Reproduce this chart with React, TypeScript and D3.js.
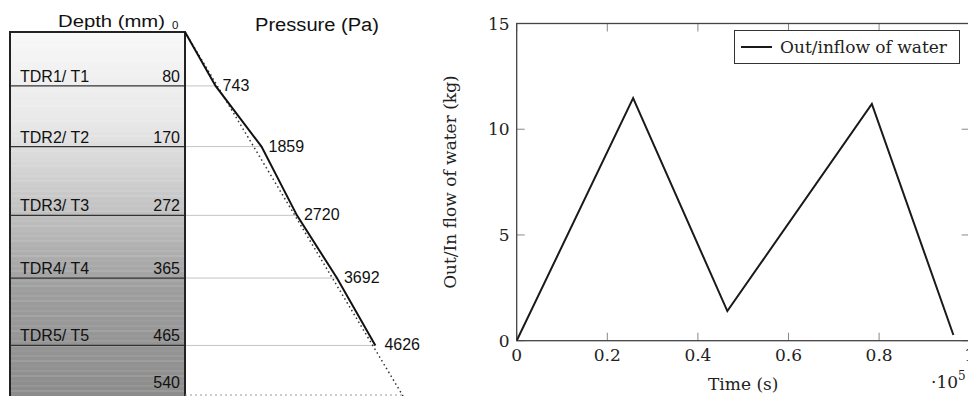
import React from "react";
import * as d3 from "d3";

// ---------- Left panel data ----------
const layerDepths = [80, 170, 272, 365, 465];          // mm
const sensorLabels = ["TDR1/ T1", "TDR2/ T2", "TDR3/ T3", "TDR4/ T4", "TDR5/ T5"];
const measuredPressure = [743, 1859, 2720, 3692, 4626]; // Pa
const bottomDepth = 540;
const hydrostaticBottom = 5297; // Pa at 540 mm

// ---------- Right panel data ----------
const timeValues = [0, 0.257e5, 0.465e5, 0.784e5, 0.964e5];
const waterValues = [0, 11.47, 1.4, 11.2, 0.27];
const xTicks = [0, 0.2e5, 0.4e5, 0.6e5, 0.8e5, 1e5];
const xTickLabels = ["0", "0.2", "0.4", "0.6", "0.8", "1"];
const yTicks = [0, 5, 10, 15];

const W = 968;
const H = 396;

export default function App() {
  // left panel scales
  const colL = 10;
  const colR = 185;
  const depthY = d3.scaleLinear().domain([0, bottomDepth]).range([32, 396]);
  const presX = d3.scaleLinear().domain([0, hydrostaticBottom]).range([colR, 403]);

  const curvePts: [number, number][] = [[0, 0], ...layerDepths.map((d, i) => [d, measuredPressure[i]] as [number, number])];
  const curve = d3
    .line<[number, number]>()
    .x((p) => presX(p[1]))
    .y((p) => depthY(p[0]))(curvePts);
  const hydro = d3
    .line<[number, number]>()
    .x((p) => presX(p[1]))
    .y((p) => depthY(p[0]))([
      [0, 0],
      [bottomDepth, hydrostaticBottom],
    ]);

  // right panel scales
  const x = d3.scaleLinear().domain([0, 1e5]).range([516.7, 969.7]);
  const y = d3.scaleLinear().domain([0, 15]).range([340.7, 23.5]);
  const line = d3
    .line<number>()
    .x((_, i) => x(timeValues[i]))
    .y((v) => y(v))(waterValues);

  const serif = "'DejaVu Serif', serif";
  const sans = "'Liberation Sans', Arial, sans-serif";
  const tickLen = 8;
  const [x0, x1] = x.range();
  const [y0, y1] = y.range();

  const stripes = d3.range(36, 396, 5);

  return (
    <svg
      width={W}
      height={H}
      style={{ position: "absolute", left: 0, top: 0, background: "#fff" }}
    >
      <defs>
        <linearGradient id="soil" x1="0" y1="0" x2="0" y2="1">
          <stop offset="0" stopColor="#f8f8f8" />
          <stop offset="0.25" stopColor="#e8e8e8" />
          <stop offset="0.5" stopColor="#c0c0c0" />
          <stop offset="0.7" stopColor="#9e9e9e" />
          <stop offset="1" stopColor="#8c8c8c" />
        </linearGradient>
        <clipPath id="plotclip">
          <rect x={x0} y={y1} width={x1 - x0} height={y0 - y1} />
        </clipPath>
      </defs>

      {/* ---------------- Left panel ---------------- */}
      <rect x={colL} y={depthY(0)} width={colR - colL} height={H - depthY(0)} fill="url(#soil)" />
      {stripes.map((s, i) => (
        <line
          key={"st" + i}
          x1={colL}
          x2={colR}
          y1={s}
          y2={s}
          stroke="#ffffff"
          strokeOpacity={0.08 + 0.07 * ((i * 7) % 3)}
          strokeWidth={1}
        />
      ))}
      {/* grey guide lines to curve */}
      {layerDepths.map((d, i) => (
        <line
          key={"g" + i}
          x1={colR}
          x2={presX(measuredPressure[i])}
          y1={depthY(d)}
          y2={depthY(d)}
          stroke="#c4c4c4"
          strokeWidth={1}
        />
      ))}
      {/* layer boundaries */}
      {layerDepths.map((d, i) => (
        <line
          key={"l" + i}
          x1={colL}
          x2={colR}
          y1={depthY(d)}
          y2={depthY(d)}
          stroke="#333"
          strokeWidth={1.3}
        />
      ))}
      {/* column borders */}
      <line x1={colL} x2={colL} y1={depthY(0)} y2={H} stroke="#222" strokeWidth={2} />
      <line x1={colR} x2={colR} y1={depthY(0)} y2={H} stroke="#222" strokeWidth={2} />
      <line x1={colL - 1} x2={colR + 1} y1={depthY(0)} y2={depthY(0)} stroke="#222" strokeWidth={2} />

      {/* labels inside column */}
      {layerDepths.map((d, i) => (
        <g key={"t" + i} fontFamily={sans} fontSize={16} fill="#111">
          <text x={20} y={depthY(d) - 4}>{sensorLabels[i]}</text>
          <text x={180} y={depthY(d) - 4} textAnchor="end">{d}</text>
        </g>
      ))}
      <text x={180} y={388} textAnchor="end" fontFamily={sans} fontSize={16} fill="#111">
        {bottomDepth}
      </text>

      {/* titles */}
      <text
        x={58}
        y={27}
        fontFamily={sans}
        fontSize={17}
        fill="#111"
        textLength={107}
        lengthAdjust="spacingAndGlyphs"
      >
        Depth (mm)
      </text>
      <text x={172} y={29} fontFamily={sans} fontSize={11.5} fill="#111">
        0
      </text>
      <text
        x={255}
        y={31}
        fontFamily={sans}
        fontSize={18}
        fill="#111"
        textLength={124}
        lengthAdjust="spacingAndGlyphs"
      >
        Pressure (Pa)
      </text>

      {/* hydrostatic dotted line and bottom dotted line */}
      <path d={hydro ?? ""} fill="none" stroke="#333" strokeWidth={1.5} strokeDasharray="1.5 3" />
      <line
        x1={colR}
        x2={presX(hydrostaticBottom)}
        y1={395}
        y2={395}
        stroke="#999"
        strokeWidth={1}
        strokeDasharray="2 3"
      />
      {/* measured curve */}
      <path d={curve ?? ""} fill="none" stroke="#111" strokeWidth={2} />
      {measuredPressure.map((p, i) => (
        <text
          key={"p" + i}
          x={presX(p) + (i === measuredPressure.length - 1 ? 9 : 7)}
          y={depthY(layerDepths[i]) + 5}
          fontFamily={sans}
          fontSize={16}
          fill="#111"
        >
          {p}
        </text>
      ))}

      {/* ---------------- Right panel ---------------- */}
      {/* ticks */}
      {xTicks.map((t, i) => (
        <g key={"xt" + i}>
          <line x1={x(t)} x2={x(t)} y1={y0} y2={y0 - tickLen} stroke="#888" strokeWidth={1} />
          <line x1={x(t)} x2={x(t)} y1={y1} y2={y1 + tickLen} stroke="#888" strokeWidth={1} />
          <text
            x={x(t)}
            y={y0 + 20}
            textAnchor="middle"
            fontFamily={serif}
            fontSize={17}
            fill="#222"
          >
            {xTickLabels[i]}
          </text>
        </g>
      ))}
      {yTicks.map((t, i) => (
        <g key={"yt" + i}>
          <line x1={x0} x2={x0 + tickLen} y1={y(t)} y2={y(t)} stroke="#888" strokeWidth={1} />
          <line x1={x1} x2={x1 - tickLen} y1={y(t)} y2={y(t)} stroke="#888" strokeWidth={1} />
          <text
            x={x0 - 7}
            y={y(t) + 6}
            textAnchor="end"
            fontFamily={serif}
            fontSize={17}
            fill="#222"
          >
            {t}
          </text>
        </g>
      ))}
      {/* frame */}
      <rect x={x0} y={y1} width={x1 - x0} height={y0 - y1} fill="none" stroke="#444" strokeWidth={1.3} />

      {/* data line */}
      <path d={line ?? ""} fill="none" stroke="#1a1a1a" strokeWidth={2} clipPath="url(#plotclip)" />

      {/* legend */}
      <rect x={734.5} y={30.5} width={225} height={33} fill="#fff" stroke="#333" strokeWidth={1} />
      <line x1={741} x2={772} y1={47} y2={47} stroke="#1a1a1a" strokeWidth={2} />
      <text x={780} y={53} fontFamily={serif} fontSize={17} fill="#222">
        Out/inflow of water
      </text>

      {/* axis titles */}
      <text
        transform={`translate(456, ${(y0 + y1) / 2}) rotate(-90)`}
        textAnchor="middle"
        fontFamily={serif}
        fontSize={17}
        fill="#222"
      >
        Out/In flow of water (kg)
      </text>
      <text x={(x0 + x1) / 2} y={390} textAnchor="middle" fontFamily={serif} fontSize={17} fill="#222">
        Time (s)
      </text>
      <text x={931} y={388} fontFamily={serif} fontSize={17} fill="#222">
        ·10
        <tspan fontSize={12} dy={-8}>
          5
        </tspan>
      </text>
    </svg>
  );
}
